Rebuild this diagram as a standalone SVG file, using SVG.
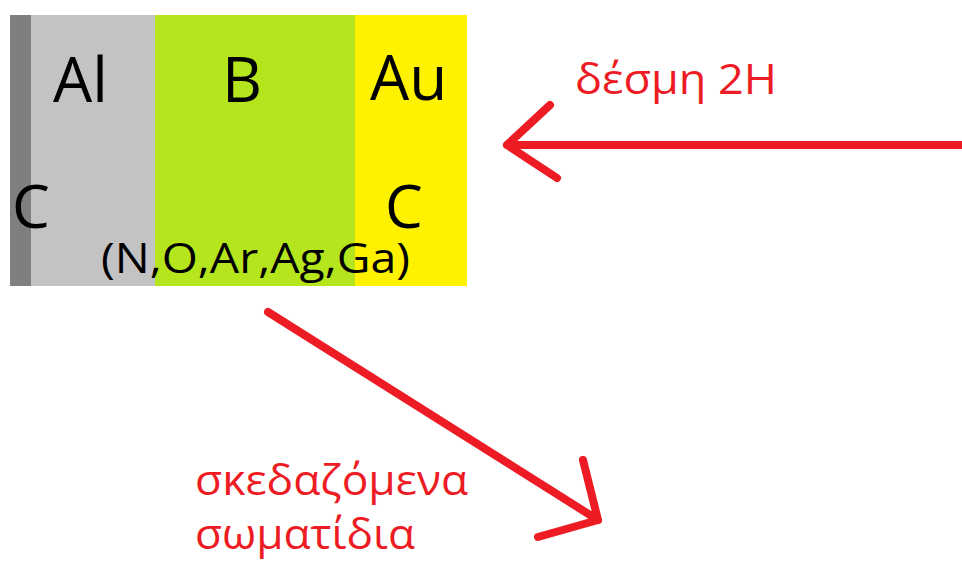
<svg xmlns="http://www.w3.org/2000/svg" width="962" height="565" viewBox="0 0 962 565">
<style>
.lbl{font-family:"Open Sans","Noto Sans","DejaVu Sans",sans-serif;fill:#000}
.red{font-family:"Open Sans","Noto Sans","DejaVu Sans",sans-serif;fill:#ed1c24;font-size:42px}
.arrow{stroke:#ed1c24;stroke-width:8;stroke-linecap:round;stroke-linejoin:round;fill:none}
</style>
<rect width="962" height="565" fill="#ffffff"/>
<g id="target">
<rect x="10" y="15" width="21" height="271" fill="#7f7f7f"/>
<rect x="31" y="15" width="124" height="271" fill="#c3c3c3"/>
<rect x="155" y="15" width="200" height="271" fill="#b5e61d"/>
<rect x="355" y="15" width="112" height="271" fill="#fff200"/>
<text class="lbl" x="53" y="102" font-size="62">Al</text>
<text class="lbl" x="242" y="102" font-size="62" text-anchor="middle">B</text>
<text class="lbl" x="370" y="100" font-size="62">Au</text>
<text class="lbl" x="12" y="228" font-size="60">C</text>
<text class="lbl" x="385" y="228" font-size="60">C</text>
<text class="lbl" x="101" y="273" font-size="42" textLength="309" lengthAdjust="spacingAndGlyphs">(N,O,Ar,Ag,Ga)</text>
</g>
<g id="connectors">
<path class="arrow" d="M962,145 L507,145 M550,105 L507,145 L557,178"/>
<path class="arrow" d="M268,312 L598,520 M583,460 L598,520 L538,537"/>
</g>
<g id="labels">
<text class="red" x="575" y="94" textLength="202" lengthAdjust="spacingAndGlyphs">δέσμη 2H</text>
<text class="red" x="195" y="495" textLength="273" lengthAdjust="spacingAndGlyphs">σκεδαζόμενα</text>
<text class="red" x="195" y="549" textLength="220" lengthAdjust="spacingAndGlyphs">σωματίδια</text>
</g>
</svg>
